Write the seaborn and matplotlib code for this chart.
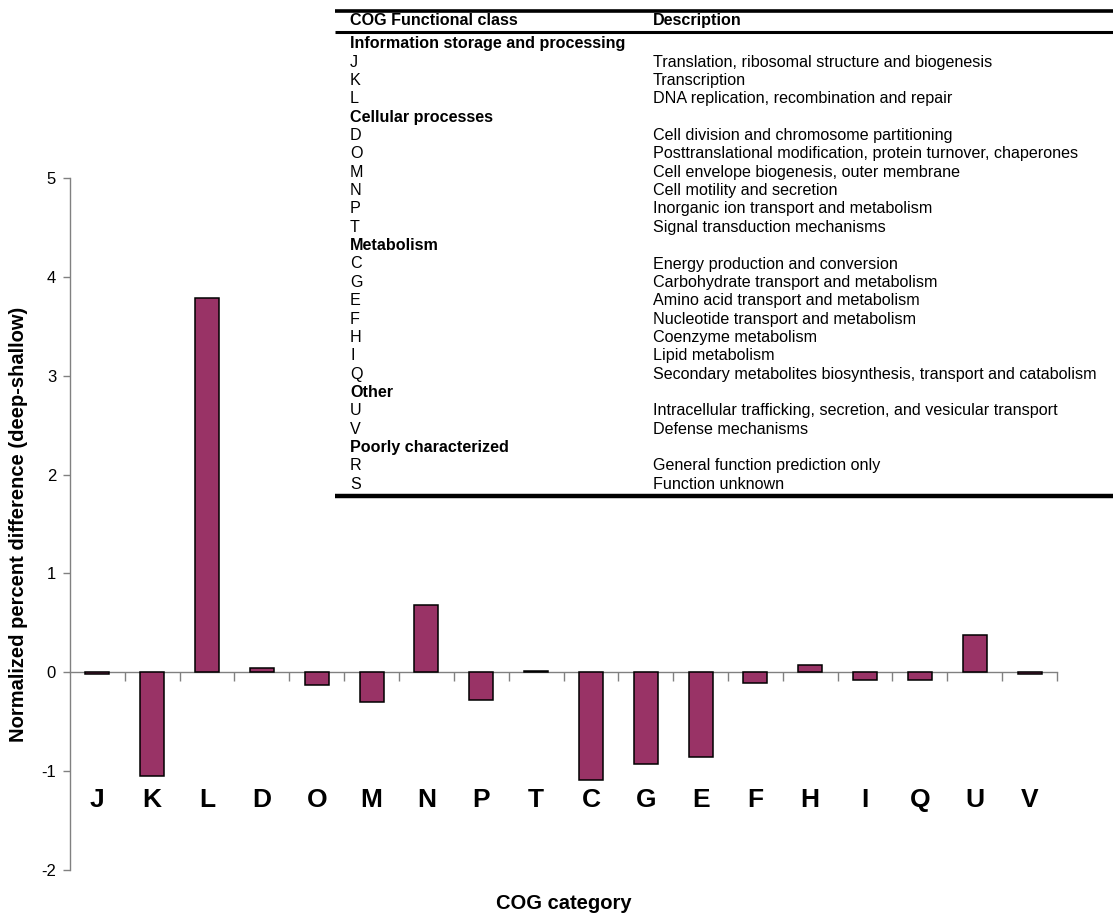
import matplotlib
matplotlib.use("Agg")
import matplotlib.pyplot as plt
from matplotlib.lines import Line2D
import seaborn as sns
import pandas as pd

# COG categories shown on the x axis and their normalized percent differences
categories = ["J", "K", "L", "D", "O", "M", "N", "P", "T",
              "C", "G", "E", "F", "H", "I", "Q", "U", "V"]
values = [-0.02, -1.05, 3.79, 0.04, -0.13, -0.30, 0.68, -0.28, 0.01,
          -1.09, -0.93, -0.86, -0.11, 0.07, -0.08, -0.08, 0.38, -0.02]

y_ticks = [-2, -1, 0, 1, 2, 3, 4, 5]

# Legend table: functional groups and their member classes
group_names = ["Information storage and processing", "Cellular processes",
               "Metabolism", "Other", "Poorly characterized"]
group_codes = [["J", "K", "L"],
               ["D", "O", "M", "N", "P", "T"],
               ["C", "G", "E", "F", "H", "I", "Q"],
               ["U", "V"],
               ["R", "S"]]
code_descriptions = {
    "J": "Translation, ribosomal structure and biogenesis",
    "K": "Transcription",
    "L": "DNA replication, recombination and repair",
    "D": "Cell division and chromosome partitioning",
    "O": "Posttranslational modification, protein turnover, chaperones",
    "M": "Cell envelope biogenesis, outer membrane",
    "N": "Cell motility and secretion",
    "P": "Inorganic ion transport and metabolism",
    "T": "Signal transduction mechanisms",
    "C": "Energy production and conversion",
    "G": "Carbohydrate transport and metabolism",
    "E": "Amino acid transport and metabolism",
    "F": "Nucleotide transport and metabolism",
    "H": "Coenzyme metabolism",
    "I": "Lipid metabolism",
    "Q": "Secondary metabolites biosynthesis, transport and catabolism",
    "U": "Intracellular trafficking, secretion, and vesicular transport",
    "V": "Defense mechanisms",
    "R": "General function prediction only",
    "S": "Function unknown",
}
table_headers = ["COG Functional class", "Description"]

sns.set_theme(style="white")
plt.rcParams["font.family"] = ["Liberation Sans", "DejaVu Sans"]
plt.rcParams["text.color"] = "black"
plt.rcParams["axes.labelcolor"] = "black"
plt.rcParams["xtick.labelcolor"] = "black"
plt.rcParams["ytick.labelcolor"] = "black"

W, H = 1113, 913
fig = plt.figure(figsize=(W / 100, H / 100), dpi=100)
ax = fig.add_axes([70 / W, 1 - 870 / H, (1057 - 70) / W, (870 - 178) / H])

df = pd.DataFrame({"category": categories, "value": values})
sns.barplot(data=df, x="category", y="value", color="#993366", saturation=1,
            edgecolor="black", linewidth=1.1, width=0.44, ax=ax)

axis_grey = "#808080"
ax.set_xlim(-0.5, len(categories) - 0.5)
ax.set_ylim(-2, 5)
ax.set_yticks(y_ticks)
ax.set_yticklabels([str(t) for t in y_ticks], fontsize=12)
for side in ("top", "right"):
    ax.spines[side].set_visible(False)
ax.spines["bottom"].set_position(("data", 0))
for side in ("left", "bottom"):
    ax.spines[side].set_color(axis_grey)
    ax.spines[side].set_linewidth(1.0)
ax.spines["bottom"].set_zorder(0.5)

ax.tick_params(axis="y", which="major", direction="out", length=5, width=1,
               color=axis_grey, left=True, pad=5, labelcolor="black")
# category letters sit well below the zero line; ticks mark category boundaries
ax.tick_params(axis="x", which="major", length=0, pad=83,
               labelsize=19, labelcolor="black")
for lab in ax.get_xticklabels():
    lab.set_fontweight("bold")
ax.set_xticks([i + 0.5 for i in range(len(categories))], minor=True)
ax.tick_params(axis="x", which="minor", direction="out", length=6.5, width=1,
               color=axis_grey, bottom=True)

ax.set_xlabel("COG category", fontsize=14.5, fontweight="bold", color="black")
ax.xaxis.set_label_coords(0.5, -0.034)
ax.set_ylabel("Normalized percent difference (deep-shallow)", fontsize=14.5,
              fontweight="bold", color="black")
ax.yaxis.set_label_coords(-0.043, 0.5)

# Legend table in the upper right
table_font = ["Liberation Sans", "DejaVu Sans"]
col1_x, col2_x = 350 / W, 653 / W
fs = 11.6
fig.text(col1_x, 1 - 20.5 / H, table_headers[0], fontsize=fs, fontweight="bold",
         family=table_font, va="center")
fig.text(col2_x, 1 - 20.5 / H, table_headers[1], fontsize=fs, fontweight="bold",
         family=table_font, va="center")

row_y = 43.8
row_step = 18.35
for gname, codes in zip(group_names, group_codes):
    fig.text(col1_x, 1 - row_y / H, gname, fontsize=fs, fontweight="bold",
             family=table_font, va="center")
    row_y += row_step
    for code in codes:
        fig.text(col1_x, 1 - row_y / H, code, fontsize=fs,
                 family=table_font, va="center")
        fig.text(col2_x, 1 - row_y / H, code_descriptions[code], fontsize=fs,
                 family=table_font, va="center")
        row_y += row_step

for y_px, lw in ((10.8, 2.6), (32.5, 2.2), (495.8, 3.2)):
    fig.add_artist(Line2D([335 / W, 1.0], [1 - y_px / H, 1 - y_px / H],
                          transform=fig.transFigure, color="black",
                          linewidth=lw, solid_capstyle="butt"))

fig.savefig("out.png", dpi=100)
